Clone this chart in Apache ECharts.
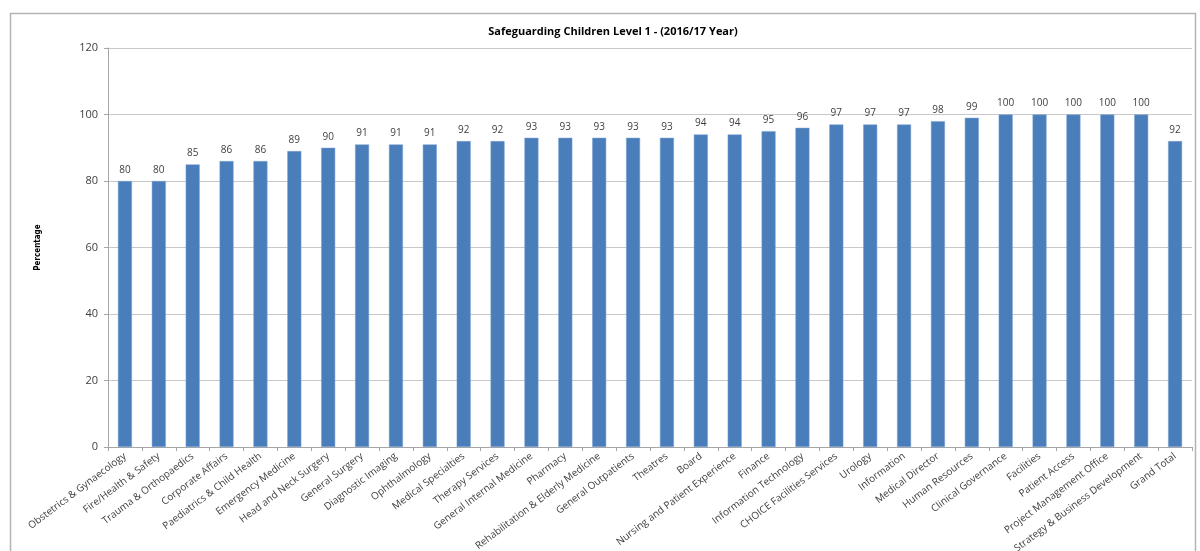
<!DOCTYPE html>
<html>
<head>
<meta charset="utf-8">
<script src="https://cdn.jsdelivr.net/npm/echarts@6/dist/echarts.min.js"></script>
<style>
  html, body { margin: 0; padding: 0; background: #ffffff; overflow: hidden; }
  #chart { width: 1200px; height: 551px; }
</style>
</head>
<body>
<div id="chart"></div>
<script>
// Departments, in ascending order of compliance, with the overall total last
const categories = [
  'Obstetrics & Gynaecology', 'Fire/Health & Safety', 'Trauma & Orthopaedics',
  'Corporate Affairs', 'Paediatrics & Child Health', 'Emergency Medicine',
  'Head and Neck Surgery', 'General Surgery', 'Diagnostic Imaging',
  'Ophthalmology', 'Medical Specialties', 'Therapy Services',
  'General Internal Medicine', 'Pharmacy', 'Rehabilitation & Elderly Medicine',
  'General Outpatients', 'Theatres', 'Board', 'Nursing and Patient Experience',
  'Finance', 'Information Technology', 'CHOICE Facilities Services', 'Urology',
  'Information', 'Medical Director', 'Human Resources', 'Clinical Governance',
  'Facilities', 'Patient Access', 'Project Management Office',
  'Strategy & Business Development', 'Grand Total'
];

// Percentage of staff trained, per department
const percentages = [
  80, 80, 85, 86, 86, 89, 90, 91, 91, 91, 92, 92, 93, 93, 93, 93, 93,
  94, 94, 95, 96, 97, 97, 97, 98, 99, 100, 100, 100, 100, 100, 92
];

// Value axis ticks
const yMin = 0;
const yMax = 120;
const yStep = 20;

const chartTitle = 'Safeguarding Children Level 1 - (2016/17 Year)';
const yAxisTitle = 'Percentage';

const chart = echarts.init(document.getElementById('chart'), null, { renderer: 'canvas' });

chart.setOption({
  backgroundColor: '#ffffff',
  animation: false,
  graphic: [{
    type: 'rect',
    shape: { x: 10.5, y: 13.5, width: 1185, height: 560 },
    style: { fill: 'none', stroke: '#b4b4b4', lineWidth: 1.5 },
    silent: true,
    z: -1
  }],
  title: {
    text: chartTitle,
    left: 608,
    textAlign: 'center',
    top: 21,
    textStyle: {
      fontFamily: 'Open Sans',
      fontSize: 11,
      fontWeight: 'bold',
      color: '#000000'
    }
  },
  grid: {
    left: 108,
    right: 8,
    top: 48,
    bottom: 104,
    containLabel: false,
    outerBoundsMode: 'none'
  },
  xAxis: {
    type: 'category',
    data: categories,
    boundaryGap: true,
    axisLine: { show: true, lineStyle: { color: '#a6a6a6', width: 1 } },
    axisTick: { show: true, alignWithLabel: false, length: 4, lineStyle: { color: '#a6a6a6' } },
    axisLabel: {
      interval: 0,
      rotate: 37,
      margin: 8,
      fontFamily: 'Open Sans',
      fontSize: 10,
      color: '#404040'
    }
  },
  yAxis: {
    type: 'value',
    min: yMin,
    max: yMax,
    interval: yStep,
    name: yAxisTitle,
    nameLocation: 'middle',
    nameGap: 66,
    nameRotate: 90,
    nameTextStyle: {
      fontFamily: 'DejaVu Sans Condensed, Liberation Sans, sans-serif',
      fontSize: 8,
      fontWeight: 'bold',
      color: '#000000'
    },
    axisLine: { show: true, lineStyle: { color: '#a6a6a6', width: 1 } },
    axisTick: { show: true, length: 4, lineStyle: { color: '#a6a6a6' } },
    axisLabel: {
      margin: 10,
      fontFamily: 'Open Sans',
      fontSize: 11,
      color: '#404040'
    },
    splitLine: { show: true, lineStyle: { color: '#c8c8c8', width: 1 } }
  },
  series: [{
    type: 'bar',
    data: percentages,
    barWidth: 14,
    itemStyle: {
      color: '#4a7ebb',
      borderColor: '#7da3d3',
      borderWidth: 0.5
    },
    label: {
      show: true,
      position: 'top',
      distance: 6,
      fontFamily: 'Open Sans',
      fontSize: 10,
      color: '#404040'
    }
  }]
});
</script>
</body>
</html>
